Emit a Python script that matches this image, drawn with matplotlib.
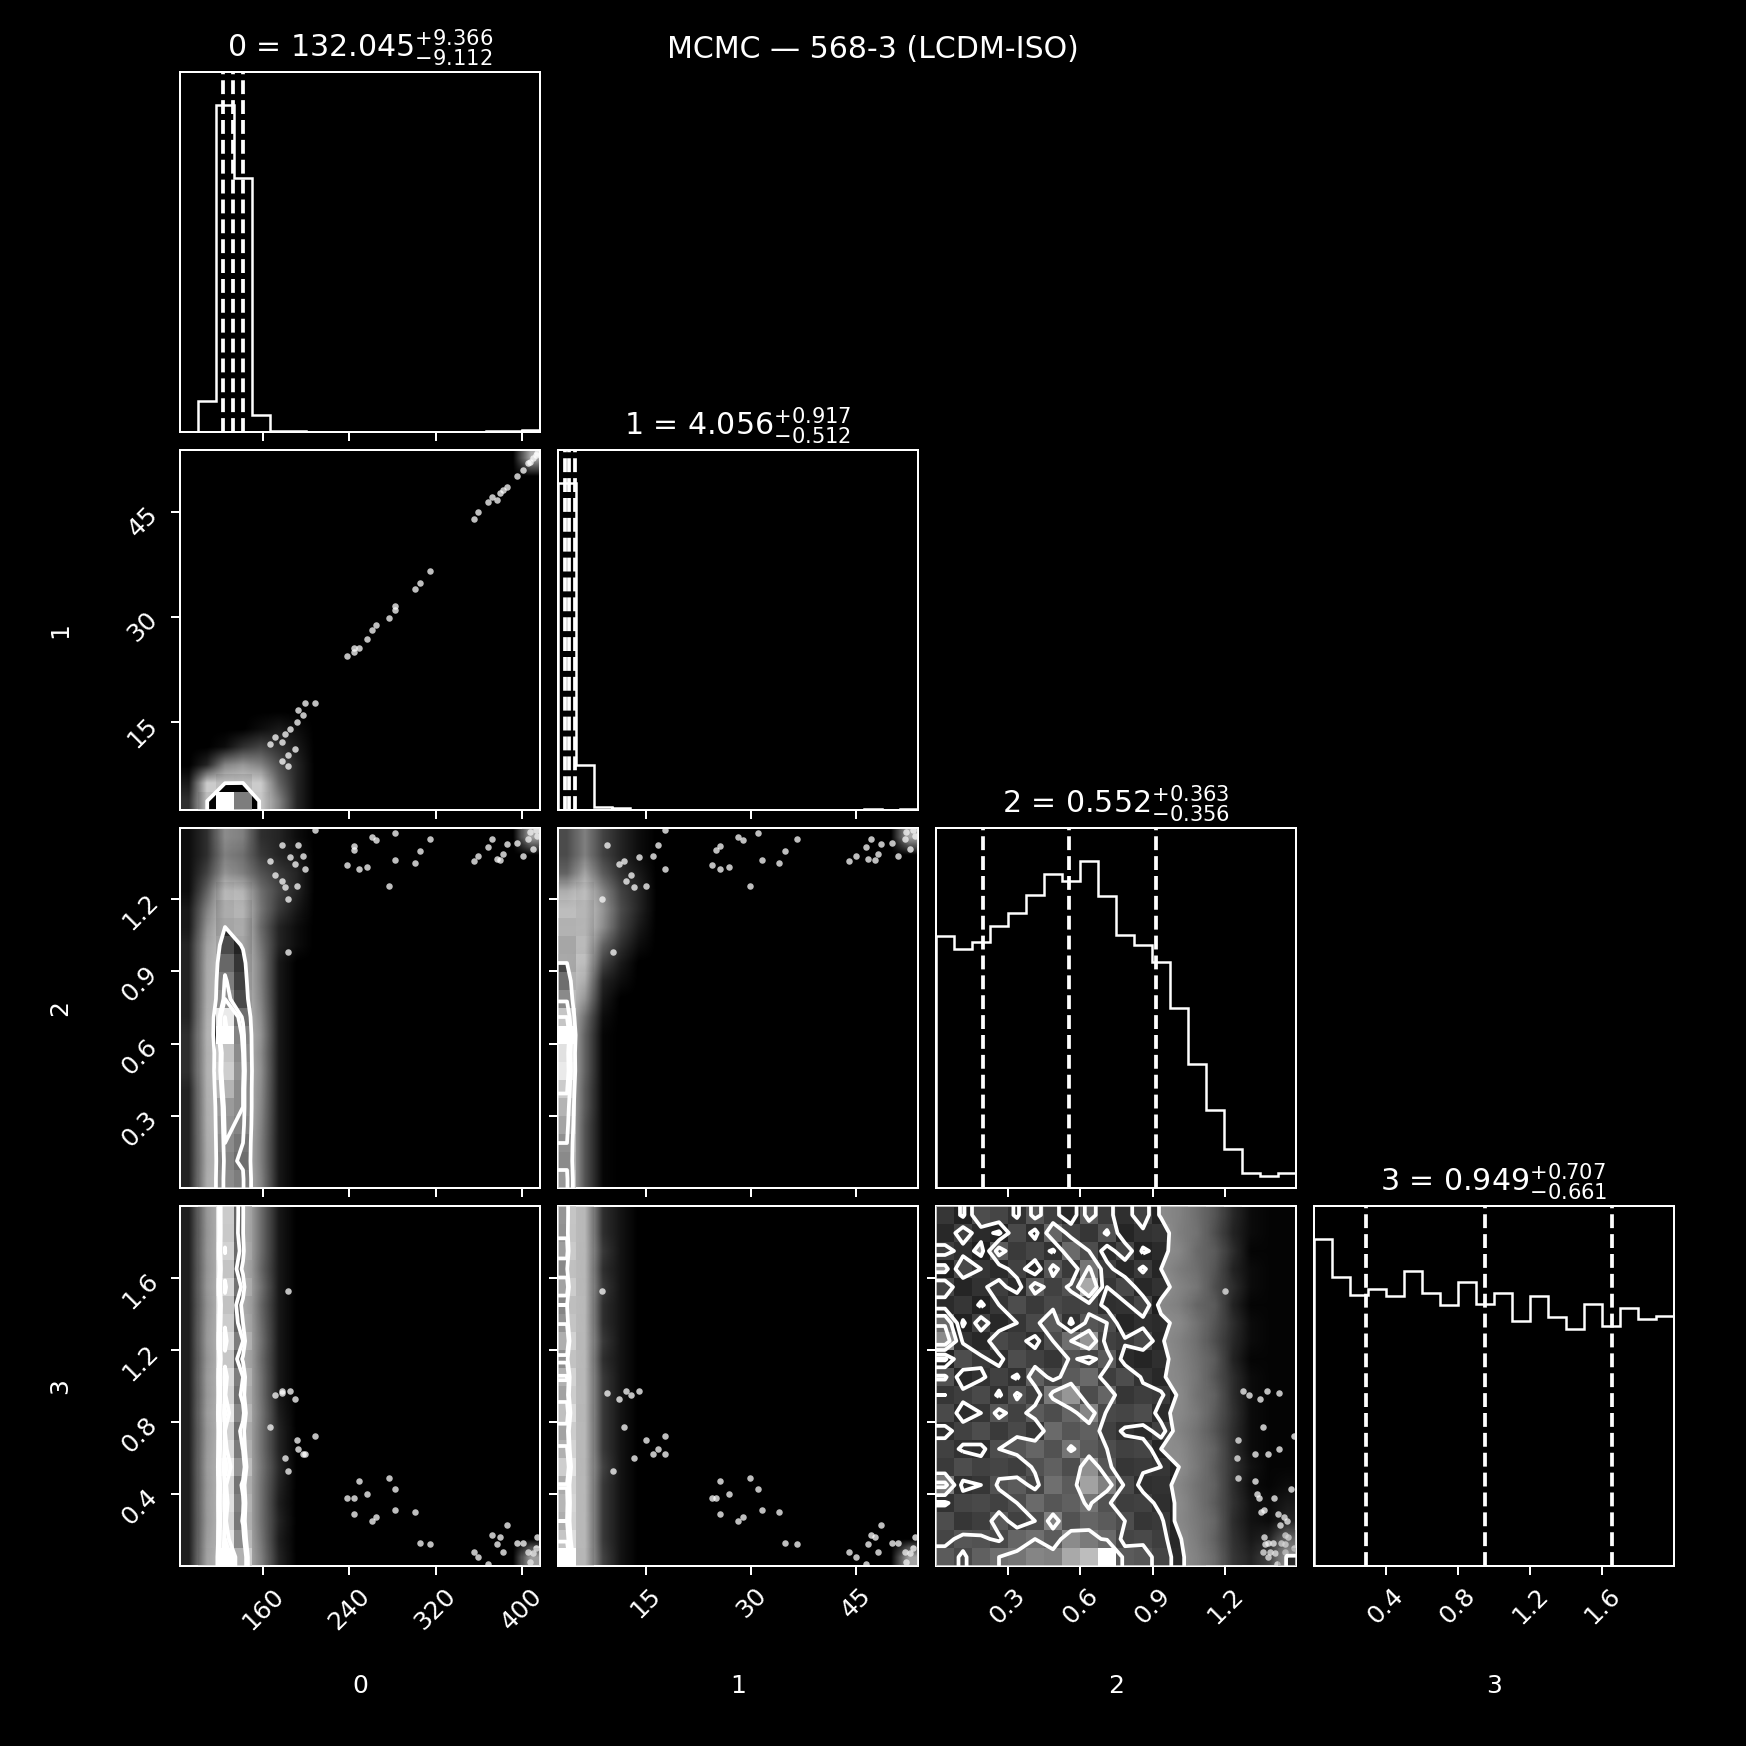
import numpy as np
import matplotlib
matplotlib.use("Agg")
import matplotlib.pyplot as plt
from matplotlib.colors import LinearSegmentedColormap
from matplotlib.ticker import MaxNLocator, NullLocator

plt.style.use("dark_background")
plt.rcParams["font.family"] = ["DejaVu Sans"]

# ------------------------------------------------------------------ data
labels = ["0", "1", "2", "3"]
suptitle_text = "MCMC — 568-3 (LCDM-ISO)"
ranges = [(83.4, 416.7), (2.51, 53.77), (0.003, 1.493), (0.0004, 1.9996)]
q50 = [132.045, 4.056, 0.552, 0.949]
q_minus = [9.112, 0.512, 0.356, 0.661]
q_plus = [9.366, 0.917, 0.363, 0.707]

# 1D histograms (20 bins over each range)
hist0 = [0, 94, 979, 761, 50, 4, 2, 0, 0, 0, 0, 0, 0, 0, 0, 0, 0, 2, 2, 5]
hist1 = [978, 133, 10, 5, 0, 0, 0, 0, 0, 0, 0, 0, 0, 0, 0, 0, 0, 4, 0, 4]
hist2 = [754, 714, 737, 784, 822, 876, 939, 919, 979, 874, 757, 727, 676, 537,
         370, 234, 117, 44, 35, 44]
hist3 = [979, 865, 810, 830, 807, 881, 817, 781, 850, 785, 817, 732, 809, 745,
         710, 785, 717, 772, 740, 749]

# 2D histograms (per-mille of samples per bin). rows = y bins, cols = x bins
# panel (1,0): x = param 0, y = param 1 ; rows 0..4, cols 0..6
H10_r0 = [0.4, 45, 470, 330, 18, 1.5, 0.3]
H10_r1 = [0.2, 10, 45, 50, 8, 1.0, 0.3]
H10_r2 = [0.0, 0.3, 1.5, 2.0, 1.5, 0.7, 0.3]
H10_r3 = [0.0, 0.0, 0.1, 0.4, 0.6, 0.4, 0.2]
H10_r4 = [0.0, 0.0, 0.0, 0.0, 0.1, 0.2, 0.1]

# panel (2,0): x = param 0 (cols 0..6), y = param 2 (rows 0..19)
H20_c0 = [0.3, 0.3, 0.3, 0.3, 0.3, 0.3, 0.4, 0.4, 0.4, 0.3, 0.3, 0.3, 0.3, 0.3, 0.2, 0.2, 0.1, 0.1, 0.1, 0.1]
H20_c1 = [3.2, 3.0, 3.1, 3.3, 3.4, 3.6, 3.8, 3.6, 3.9, 3.5, 3.1, 3.0, 2.9, 2.6, 2.0, 1.5, 1.0, 0.6, 0.4, 0.4]
H20_c2 = [37, 36, 37, 38, 39, 42, 45, 44, 50, 48, 37, 35, 32, 27, 20, 12, 6, 2, 1.5, 1.8]
H20_c3 = [35, 33, 34, 36, 37, 37, 38, 37, 36, 33, 27, 25, 23, 19, 13, 8, 4, 1.5, 1.2, 1.5]
H20_c4 = [1.6, 1.5, 1.5, 1.6, 1.7, 1.8, 1.9, 1.8, 2.0, 1.8, 1.6, 1.5, 1.5, 1.3, 1.1, 1.3, 1.2, 0.8, 0.5, 0.4]
H20_c5 = [0.2, 0.2, 0.2, 0.2, 0.2, 0.2, 0.2, 0.2, 0.2, 0.2, 0.2, 0.2, 0.2, 0.3, 0.3, 0.5, 0.6, 0.5, 0.3, 0.3]
H20_c6 = [0, 0, 0, 0, 0, 0, 0, 0, 0, 0, 0, 0, 0, 0.1, 0.1, 0.2, 0.3, 0.3, 0.2, 0.1]

# panel (3,0): x = param 0 (cols 0..5), y = param 3
H30_c0 = [0.25, 0.25, 0.25, 0.25, 0.25, 0.25, 0.25, 0.25, 0.25, 0.25, 0.25, 0.25, 0.25, 0.25, 0.25, 0.25, 0.25, 0.25, 0.25, 0.25]
H30_c1 = [3.0, 2.6, 2.4, 2.5, 2.4, 2.6, 2.4, 2.3, 2.6, 2.3, 2.5, 2.2, 2.4, 2.3, 2.1, 2.4, 2.2, 2.3, 2.2, 2.3]
H30_c2 = [27.0, 25.6, 24.8, 25.3, 24.9, 26.2, 25.0, 24.4, 25.8, 24.6, 25.1, 23.9, 25.0, 24.2, 23.6, 24.8, 23.7, 24.5, 24.0, 24.1]
H30_c3 = [22.5, 20.0, 18.6, 19.3, 18.3, 20.6, 18.8, 17.8, 19.8, 18.0, 18.9, 16.4, 18.9, 16.8, 16.0, 18.2, 16.2, 17.6, 16.9, 17.0]
H30_c4 = [1.6, 1.4, 1.3, 1.3, 1.3, 1.4, 1.3, 1.3, 1.4, 1.3, 1.3, 1.2, 1.3, 1.2, 1.1, 1.3, 1.1, 1.2, 1.2, 1.2]
H30_c5 = [0.3, 0.25, 0.3, 0.25, 0.3, 0.35, 0.3, 0.3, 0.25, 0.2, 0.2, 0.2, 0.2, 0.2, 0.2, 0.2, 0.2, 0.2, 0.2, 0.2]

# panel (2,1): x = param 1 (cols 0..4), y = param 2
H21_c0 = [59, 56, 57.5, 61, 64, 68, 73, 71.5, 76, 67, 56, 50, 40, 26, 14, 7, 3, 1, 0.7, 0.7]
H21_c1 = [0.8, 0.8, 0.8, 0.8, 0.9, 0.9, 1.0, 1.0, 1.0, 1.2, 2.0, 3.0, 5.0, 9.0, 12, 11, 7, 2.5, 1.5, 1.5]
H21_c2 = [0.05, 0.05, 0.05, 0.05, 0.05, 0.05, 0.05, 0.05, 0.05, 0.1, 0.2, 0.3, 0.6, 1.0, 1.8, 2.0, 1.6, 0.9, 0.6, 0.6]
H21_c3 = [0, 0, 0, 0, 0, 0, 0, 0, 0, 0, 0, 0.1, 0.2, 0.4, 0.6, 0.7, 0.6, 0.4, 0.3, 0.3]
H21_c4 = [0, 0, 0, 0, 0, 0, 0, 0, 0, 0, 0, 0, 0, 0.1, 0.2, 0.3, 0.3, 0.2, 0.1, 0.1]

# panel (3,1): x = param 1 (cols 0..3), y = param 3
H31_c0 = [52.7, 46.5, 43.6, 44.6, 43.4, 47.4, 43.9, 42.1, 45.8, 42.2, 43.9, 39.4, 43.5, 40.1, 38.2, 42.2, 38.6, 41.5, 39.8, 40.3]
H31_c1 = [7.4, 6.5, 6.1, 6.2, 6.1, 6.6, 6.1, 5.9, 6.4, 5.9, 6.1, 5.5, 6.1, 5.6, 5.3, 5.9, 5.4, 5.8, 5.6, 5.6]
H31_c2 = [0.6, 0.5, 0.5, 0.5, 0.5, 0.6, 0.5, 0.5, 0.5, 0.5, 0.5, 0.4, 0.5, 0.4, 0.4, 0.5, 0.4, 0.5, 0.4, 0.4]
H31_c3 = [0.15, 0.15, 0.15, 0.15, 0.15, 0.15, 0.15, 0.15, 0.15, 0.15, 0.15, 0.15, 0.15, 0.15, 0.15, 0.15, 0.15, 0.15, 0.15, 0.15]

# stuck-walker bin value (top/bottom corner bins)
stuck_bin = 2.6

# panel (3,2): x = param 2, y = param 3 ; listed from top row (y bin 19) to bottom row (y bin 0)
H32_top_to_bottom = [
    [3.0, 2.4, 3.6, 3.4, 2.9, 3.8, 3.2, 2.6, 3.9, 3.1, 2.8, 3.3, 2.4, 2.0, 1.4, 0.9, 0.35, 0.10, 0.05, 0.05],
    [2.6, 3.3, 2.7, 2.4, 3.5, 2.8, 4.1, 3.4, 3.0, 3.7, 2.5, 2.9, 3.0, 1.9, 1.5, 0.8, 0.30, 0.10, 0.05, 0.05],
    [3.2, 2.8, 2.3, 3.9, 3.1, 3.4, 2.9, 4.2, 3.6, 2.7, 3.4, 2.4, 2.7, 2.2, 1.3, 1.0, 0.40, 0.05, 0.05, 0.05],
    [2.3, 3.5, 3.0, 2.7, 3.3, 2.6, 3.8, 3.1, 4.4, 3.2, 2.6, 3.1, 2.5, 1.8, 1.4, 0.9, 0.30, 0.10, 0.05, 0.05],
    [3.4, 2.5, 2.9, 3.2, 2.7, 3.9, 3.3, 3.7, 5.3, 3.0, 3.5, 2.6, 2.9, 2.1, 1.6, 0.8, 0.40, 0.10, 0.05, 0.05],
    [2.7, 3.0, 2.4, 3.0, 3.6, 3.1, 3.5, 3.3, 3.4, 2.8, 2.9, 3.4, 2.3, 1.9, 1.2, 1.0, 0.30, 0.05, 0.05, 0.05],
    [4.2, 2.4, 3.3, 2.6, 3.0, 3.5, 3.9, 2.9, 3.8, 3.6, 2.5, 2.8, 2.7, 2.3, 1.5, 0.9, 0.40, 0.10, 0.05, 0.05],
    [4.8, 2.9, 2.6, 3.5, 3.2, 2.8, 3.6, 4.3, 5.0, 3.3, 3.1, 3.5, 2.6, 2.0, 1.4, 0.8, 0.35, 0.10, 0.05, 0.05],
    [2.4, 3.6, 3.1, 2.8, 3.6, 3.3, 3.0, 3.7, 3.4, 3.9, 2.7, 2.5, 2.8, 2.1, 1.5, 1.0, 0.30, 0.05, 0.05, 0.05],
    [3.7, 2.6, 2.9, 3.3, 2.9, 4.0, 3.4, 3.9, 4.2, 3.2, 3.6, 2.9, 2.6, 2.2, 1.6, 0.9, 0.40, 0.10, 0.05, 0.05],
    [3.0, 3.2, 3.5, 2.9, 3.7, 3.2, 4.5, 5.0, 3.6, 4.1, 3.0, 3.2, 3.1, 2.4, 1.5, 1.1, 0.40, 0.10, 0.05, 0.05],
    [3.5, 2.7, 3.0, 3.8, 3.3, 3.9, 3.6, 4.1, 4.7, 3.5, 3.4, 3.6, 2.7, 2.3, 1.7, 1.0, 0.45, 0.10, 0.05, 0.05],
    [2.8, 3.3, 3.6, 3.1, 3.5, 3.0, 4.2, 3.8, 4.0, 3.3, 2.9, 2.7, 3.3, 2.1, 1.5, 0.9, 0.40, 0.10, 0.05, 0.05],
    [3.3, 2.9, 2.8, 3.6, 3.8, 4.1, 3.7, 4.4, 3.9, 3.6, 3.3, 3.4, 2.5, 2.4, 1.6, 1.1, 0.40, 0.10, 0.05, 0.05],
    [3.1, 3.6, 3.3, 3.4, 3.2, 3.7, 4.0, 3.6, 4.9, 3.8, 3.0, 3.1, 3.0, 2.5, 1.7, 1.0, 0.45, 0.15, 0.05, 0.05],
    [4.5, 2.8, 3.0, 3.7, 3.9, 3.4, 4.3, 3.9, 5.2, 4.6, 3.5, 2.8, 2.9, 2.2, 1.5, 1.1, 0.40, 0.10, 0.05, 0.10],
    [2.9, 3.4, 3.5, 3.3, 3.6, 4.2, 3.8, 4.0, 4.4, 3.7, 3.2, 3.3, 2.8, 2.4, 1.6, 1.0, 0.45, 0.15, 0.10, 0.20],
    [3.6, 3.0, 3.2, 3.9, 3.3, 3.6, 4.6, 3.7, 4.1, 3.9, 3.6, 3.0, 3.1, 2.3, 1.7, 1.2, 0.40, 0.15, 0.10, 0.30],
    [3.4, 3.8, 3.7, 3.5, 4.1, 4.3, 3.9, 4.8, 4.5, 4.2, 3.4, 3.5, 3.2, 2.6, 1.8, 1.1, 0.45, 0.20, 0.30, 1.2],
    [3.9, 3.5, 4.0, 4.3, 4.4, 4.7, 4.6, 5.3, 5.6, 6.5, 3.9, 3.8, 3.4, 2.7, 2.0, 1.3, 0.50, 0.30, 0.60, 2.6],
]

# isolated samples of a wandering walker (param 0, 1, 2, 3)
out_p0 = [166.7, 171.4, 177.5, 180.6, 185.2, 191.4, 193.0, 197.6, 199.1, 208.4, 189.9, 183.7, 177.5, 183.7,
          238.3, 244.5, 244.5, 249.4, 256.2, 260.9, 264.9, 277.2, 282.5, 282.5, 301.0, 305.6, 314.9,
          355.6, 359.6, 368.9, 372.0, 376.6, 379.7, 382.8, 385.8, 395.1, 401.3, 405.9, 410.5, 413.6, 407.4, 413.0]
out_p1 = [11.9, 12.9, 12.2, 13.4, 14.1, 15.0, 16.7, 16.1, 17.8, 17.8, 11.2, 10.3, 9.5, 8.8,
          24.4, 25.6, 25.0, 25.6, 26.9, 28.1, 28.8, 29.8, 31.0, 31.6, 34.0, 34.8, 36.5,
          43.9, 45.0, 46.4, 47.1, 46.6, 47.6, 48.1, 48.5, 50.1, 50.9, 51.9, 52.6, 53.3, 52.0, 53.0]
out_p2 = [1.358, 1.30, 1.275, 1.248, 1.374, 1.255, 1.424, 1.379, 1.324, 1.485, 1.344, 0.979, 1.424, 1.20,
          1.341, 1.420, 1.40, 1.324, 1.333, 1.455, 1.445, 1.255, 1.471, 1.361, 1.347, 1.397, 1.448,
          1.355, 1.379, 1.416, 1.448, 1.365, 1.361, 1.386, 1.427, 1.430, 1.379, 1.448, 1.406, 1.461, 1.475, 1.485]
out_p3 = [0.77, 0.95, 0.97, 0.60, 0.97, 0.70, 0.65, 0.62, 0.62, 0.72, 0.93, 0.53, 0.96, 1.53,
          0.38, 0.29, 0.38, 0.47, 0.40, 0.25, 0.27, 0.49, 0.43, 0.31, 0.30, 0.13, 0.12,
          0.08, 0.05, 0.01, 0.17, 0.12, 0.16, 0.08, 0.23, 0.13, 0.13, 0.08, 0.07, 0.16, 0.02, 0.10]

# ------------------------------------------------------------------ assemble grids
NB = 20


def grid_from_columns(cols):
    H = np.zeros((NB, NB))
    for c, vals in enumerate(cols):
        H[:, c] = vals
    return H


def grid_from_rows(rows):
    H = np.zeros((NB, NB))
    for r, vals in enumerate(rows):
        H[r, :len(vals)] = vals
    return H


H10 = grid_from_rows([H10_r0, H10_r1, H10_r2, H10_r3, H10_r4])
H10[19, 19] = stuck_bin
H20 = grid_from_columns([H20_c0, H20_c1, H20_c2, H20_c3, H20_c4, H20_c5, H20_c6])
H20[19, 19] = stuck_bin
H30 = grid_from_columns([H30_c0, H30_c1, H30_c2, H30_c3, H30_c4, H30_c5])
H30[0, 19] = stuck_bin
H21 = grid_from_columns([H21_c0, H21_c1, H21_c2, H21_c3, H21_c4])
H21[19, 19] = stuck_bin
H31 = grid_from_columns([H31_c0, H31_c1, H31_c2, H31_c3])
H31[0, 19] = stuck_bin
H32 = np.array(H32_top_to_bottom, dtype=float)[::-1]

grids = {(1, 0): H10, (2, 0): H20, (3, 0): H30, (2, 1): H21, (3, 1): H31, (3, 2): H32}
hists = [hist0, hist1, hist2, hist3]
outs = [out_p0, out_p1, out_p2, out_p3]

# ------------------------------------------------------------------ figure layout (corner style)
K = 4
factor = 2.0
lbdim = 0.5 * factor
trdim = 0.2 * factor
whspace = 0.05
plotdim = factor * K + factor * (K - 1.0) * whspace
dim = lbdim + plotdim + trdim
fig, axes = plt.subplots(K, K, figsize=(dim, dim))
lb = lbdim / dim
tr = (lbdim + plotdim) / dim
fig.subplots_adjust(left=lb, bottom=lb, right=tr, top=tr, wspace=whspace, hspace=whspace)
fig.patch.set_facecolor("black")

density_cmap = LinearSegmentedColormap.from_list("dens", [(0, 0, 0, 0), (1, 1, 1, 1)])
HALO_SCALE = 1.5
HALO_MAX = 0.82


def corner_levels(H):
    levels = 1.0 - np.exp(-0.5 * np.arange(0.5, 2.1, 0.5) ** 2)
    Hflat = np.sort(H.flatten())[::-1]
    sm = np.cumsum(Hflat)
    sm /= sm[-1]
    V = np.empty(len(levels))
    for i, v0 in enumerate(levels):
        sel = Hflat[sm <= v0]
        V[i] = sel[-1] if len(sel) else Hflat[0]
    V.sort()
    m = np.diff(V) == 0
    while np.any(m):
        V[np.where(m)[0][0]] *= 1.0 - 1e-4
        m = np.diff(V) == 0
    V.sort()
    return V


def padded(H, X, Y):
    X1 = 0.5 * (X[1:] + X[:-1])
    Y1 = 0.5 * (Y[1:] + Y[:-1])
    H2 = H.min() + np.zeros((H.shape[0] + 4, H.shape[1] + 4))
    H2[2:-2, 2:-2] = H
    H2[2:-2, 1] = H[:, 0]
    H2[2:-2, -2] = H[:, -1]
    H2[1, 2:-2] = H[0]
    H2[-2, 2:-2] = H[-1]
    H2[1, 1] = H[0, 0]
    H2[1, -2] = H[0, -1]
    H2[-2, 1] = H[-1, 0]
    H2[-2, -2] = H[-1, -1]
    X2 = np.concatenate([X1[0] + np.array([-2, -1]) * np.diff(X1[:2]), X1,
                         X1[-1] + np.array([1, 2]) * np.diff(X1[-2:])])
    Y2 = np.concatenate([Y1[0] + np.array([-2, -1]) * np.diff(Y1[:2]), Y1,
                         Y1[-1] + np.array([1, 2]) * np.diff(Y1[-2:])])
    return X2, Y2, H2


def draw_2d(ax, H, xr, yr, ox, oy):
    X = np.linspace(xr[0], xr[1], NB + 1)
    Y = np.linspace(yr[0], yr[1], NB + 1)
    # cloud of individual samples
    halo = np.ones(H.shape + (4,))
    halo[..., 3] = HALO_MAX * (1.0 - np.exp(-H / HALO_SCALE))
    ax.imshow(halo, extent=(xr[0], xr[1], yr[0], yr[1]), origin="lower",
              interpolation="bilinear", aspect="auto", zorder=0)
    ax.plot(ox, oy, "o", color="w", ms=2.6, mec="none", alpha=0.75, zorder=1)
    V = corner_levels(H)
    X2, Y2, H2 = padded(H, X, Y)
    ax.contourf(X2, Y2, H2, [V.min(), H.max()], colors=["k"], antialiased=False, zorder=2)
    ax.pcolormesh(X, Y, H, cmap=density_cmap, vmin=0, vmax=H.max(), zorder=3)
    ax.contour(X2, Y2, H2, V, colors="w", linewidths=1.5, zorder=4)
    ax.set_xlim(xr)
    ax.set_ylim(yr)


for i in range(K):
    for j in range(K):
        ax = axes[i, j]
        if j > i:
            ax.set_frame_on(False)
            ax.set_xticks([])
            ax.set_yticks([])
            continue
        if i == j:
            edges = np.linspace(ranges[i][0], ranges[i][1], NB + 1)
            ax.stairs(hists[i], edges, color="w", lw=1.0)
            for q in (q50[i] - q_minus[i], q50[i], q50[i] + q_plus[i]):
                ax.axvline(q, ls="dashed", color="w", lw=1.5)
            title = "{0} = ${1:.3f}_{{-{2:.3f}}}^{{+{3:.3f}}}$".format(
                labels[i], q50[i], q_minus[i], q_plus[i])
            ax.set_title(title)
            ax.set_xlim(ranges[i])
            ax.set_ylim(0, 1.1 * max(hists[i]))
            ax.yaxis.set_major_locator(NullLocator())
            ax.xaxis.set_major_locator(MaxNLocator(5, prune="lower"))
            if i < K - 1:
                ax.set_xticklabels([])
            else:
                for lab in ax.get_xticklabels():
                    lab.set_rotation(45)
                ax.set_xlabel(labels[i])
                ax.xaxis.set_label_coords(0.5, -0.3)
            continue
        draw_2d(ax, grids[(i, j)], ranges[j], ranges[i], outs[j], outs[i])
        ax.xaxis.set_major_locator(MaxNLocator(5, prune="lower"))
        ax.yaxis.set_major_locator(MaxNLocator(5, prune="lower"))
        if i < K - 1:
            ax.set_xticklabels([])
        else:
            for lab in ax.get_xticklabels():
                lab.set_rotation(45)
            ax.set_xlabel(labels[j])
            ax.xaxis.set_label_coords(0.5, -0.3)
        if j > 0:
            ax.set_yticklabels([])
        else:
            for lab in ax.get_yticklabels():
                lab.set_rotation(45)
            ax.set_ylabel(labels[i])
            ax.yaxis.set_label_coords(-0.3, 0.5)

fig.suptitle(suptitle_text)
fig.savefig("out.png", dpi=180, facecolor="black")
